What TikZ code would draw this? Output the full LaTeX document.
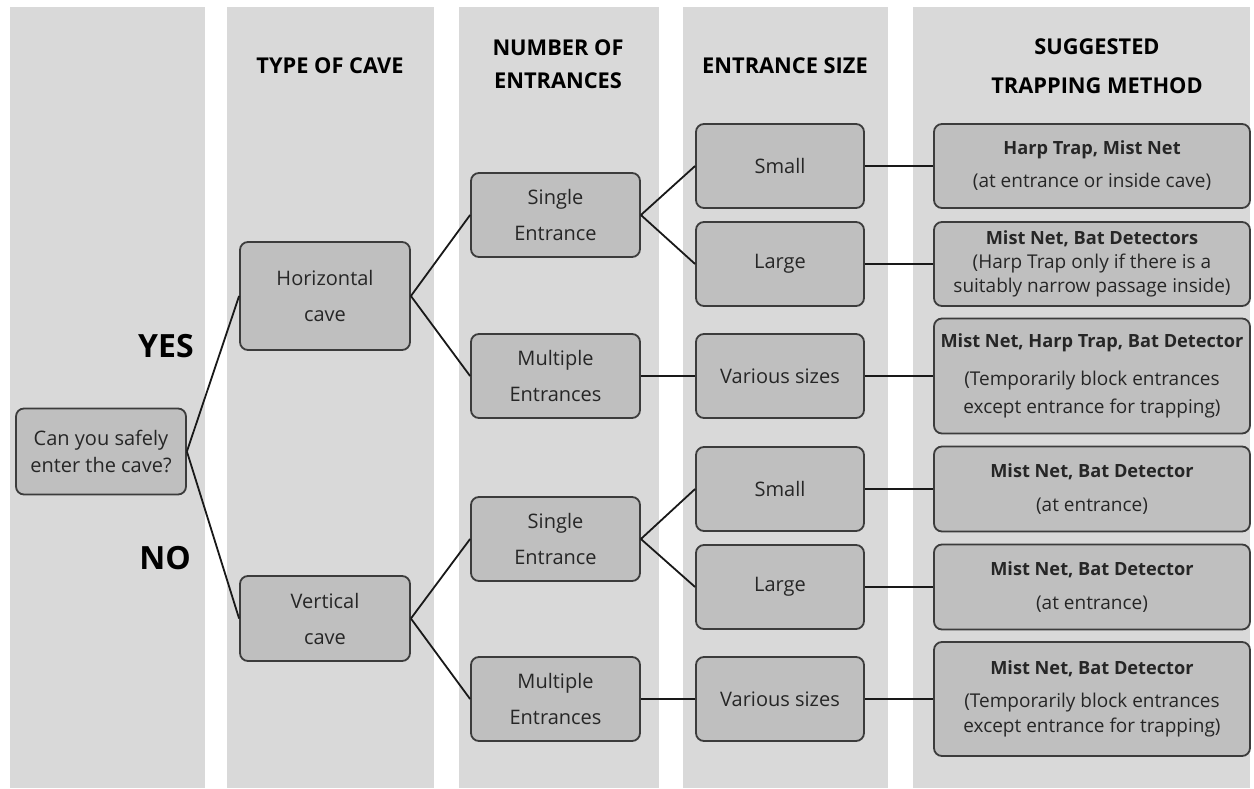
\documentclass[tikz,border=0pt]{standalone}
\usepackage{fontspec}
\setmainfont{Open Sans}
\definecolor{colbg}{HTML}{D9D9D9}
\definecolor{boxfill}{HTML}{BFBFBF}
\definecolor{boxline}{HTML}{3C3C3C}
\definecolor{txt}{HTML}{262626}
\newcommand{\trbold}[1]{{\bfseries\fontsize{18.2}{24}\selectfont #1}}
\begin{document}
\begin{tikzpicture}[x=1pt,y=-1pt,
  box/.style={draw=boxline, line width=1.8pt, fill=boxfill, rounded corners=8pt,
    align=center, inner sep=0pt, text=txt, font=\fontsize{20}{36}\selectfont,
    minimum width=169pt, minimum height=84pt},
  trap/.style={box, minimum width=316pt, font=\fontsize{19}{24}\selectfont},
  head/.style={align=center, font=\bfseries\fontsize{21.8}{33}\selectfont, text=black},
  yn/.style={font=\bfseries\fontsize{32}{36}\selectfont, text=black},
  link/.style={draw=black!90, line width=1.8pt}]
\useasboundingbox (0,0) rectangle (1254,788);
\fill[white] (0,0) rectangle (1254,788);
% column backgrounds
\fill[colbg] (10,7) rectangle (205,788);
\fill[colbg] (227,7) rectangle (434,788);
\fill[colbg] (459,7) rectangle (659,788);
\fill[colbg] (683,7) rectangle (888,788);
\fill[colbg] (913,7) rectangle (1250,788);
% headers
\node[head] (h1) at (330,66) {TYPE OF CAVE};
\node[head] (h2) at (558,64) {NUMBER OF\\ENTRANCES};
\node[head, font=\bfseries\fontsize{21.8}{39}\selectfont] (h4) at (1097,66) {SUGGESTED\\TRAPPING METHOD};
\node[head] (h3) at (785,66) {ENTRANCE SIZE};
% labels
\node[yn] (yes) at (166,346) {YES};
\node[yn] (no) at (165,558) {NO};
% boxes
\node[box, minimum width=170pt, minimum height=86pt, font=\fontsize{20}{27}\selectfont] (root) at (101,451.5) {Can you safely\\enter the cave?};
\node[box, minimum width=170pt, minimum height=108pt] (hor) at (325,296) {Horizontal\\cave};
\node[box, minimum width=170pt, minimum height=85pt] (ver) at (325,618.5) {Vertical\\cave};
\node[box] (s1) at (555.5,215) {Single\\Entrance};
\node[box] (m1) at (555.5,376) {Multiple\\Entrances};
\node[box] (s2) at (555.5,539) {Single\\Entrance};
\node[box] (m2) at (555.5,699) {Multiple\\Entrances};
\node[box, minimum width=168pt] (sm1) at (780,166) {Small};
\node[box, minimum width=168pt] (lg1) at (780,264) {Large};
\node[box, minimum width=168pt] (va1) at (780,376) {Various sizes};
\node[box, minimum width=168pt] (sm2) at (780,489) {Small};
\node[box, minimum width=168pt] (lg2) at (780,587) {Large};
\node[box, minimum width=168pt] (va2) at (780,699) {Various sizes};
\node[trap] (t1) at (1092,166) {\trbold{Harp Trap, Mist Net}\\[9pt](at entrance or inside cave)};
\node[trap] (t2) at (1092,264) {\trbold{Mist Net, Bat Detectors}\\(Harp Trap only if there is a\\suitably narrow passage inside)};
\node[trap, minimum height=115pt] (t3) at (1092,376) {\trbold{Mist Net, Harp Trap, Bat Detector}\\[14pt](Temporarily block entrances\\[4pt]except entrance for trapping)};
\node[trap, minimum height=85pt] (t4) at (1092,489) {\trbold{Mist Net, Bat Detector}\\[10pt](at entrance)};
\node[trap, minimum height=85pt] (t5) at (1092,587) {\trbold{Mist Net, Bat Detector}\\[10pt](at entrance)};
\node[trap, minimum height=114pt] (t6) at (1092,699) {\trbold{Mist Net, Bat Detector}\\[9pt](Temporarily block entrances\\[1pt]except entrance for trapping)};
% connectors
\draw[link] (root.east) -- (hor.west);
\draw[link] (root.east) -- (ver.west);
\draw[link] (hor.east) -- (s1.west);
\draw[link] (hor.east) -- (m1.west);
\draw[link] (ver.east) -- (s2.west);
\draw[link] (ver.east) -- (m2.west);
\draw[link] (s1.east) -- (sm1.west);
\draw[link] (s1.east) -- (lg1.west);
\draw[link] (m1.east) -- (va1.west);
\draw[link] (s2.east) -- (sm2.west);
\draw[link] (s2.east) -- (lg2.west);
\draw[link] (m2.east) -- (va2.west);
\draw[link] (sm1.east) -- (t1.west);
\draw[link] (lg1.east) -- (t2.west);
\draw[link] (va1.east) -- (t3.west);
\draw[link] (sm2.east) -- (t4.west);
\draw[link] (lg2.east) -- (t5.west);
\draw[link] (va2.east) -- (t6.west);
\end{tikzpicture}
\end{document}
